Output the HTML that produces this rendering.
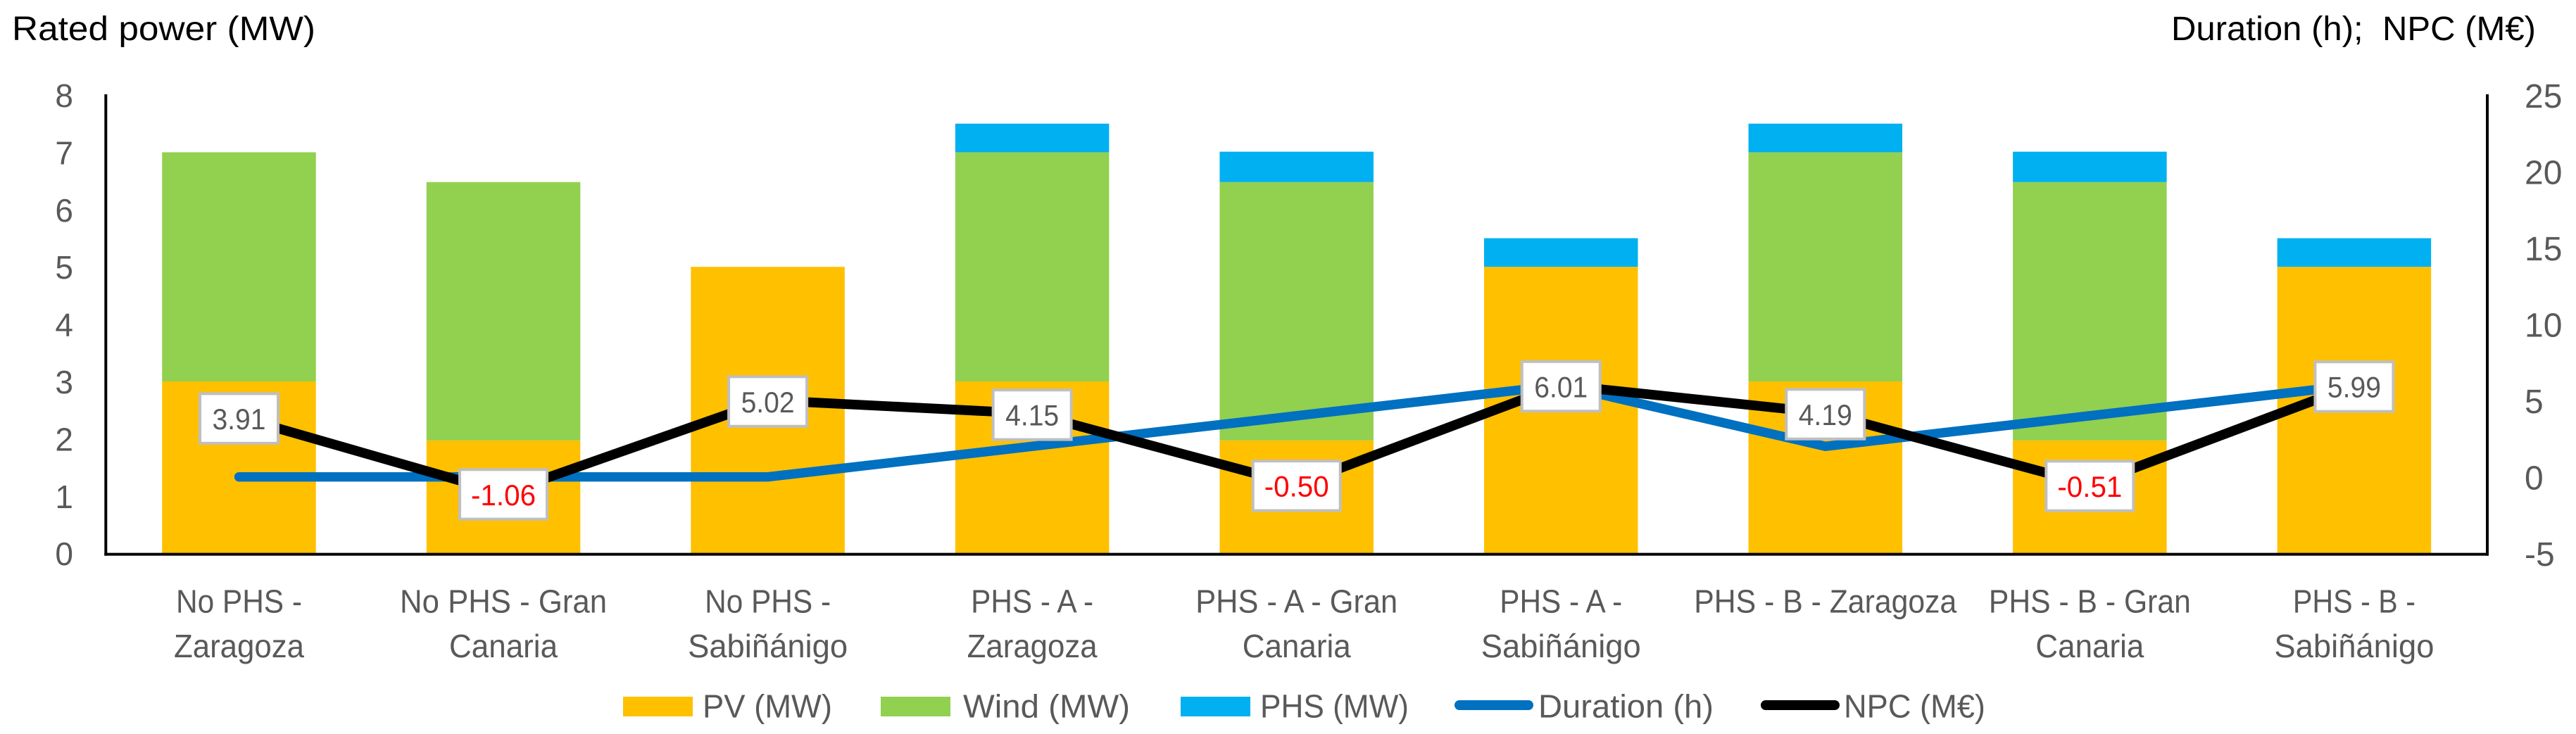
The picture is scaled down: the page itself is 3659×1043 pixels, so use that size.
<!DOCTYPE html>
<html lang="en">
<head>
<meta charset="utf-8">
<title>Rated power, duration and NPC chart</title>
<style>
html,body{margin:0;padding:0;background:#fff;}
svg{display:block;font-family:"Liberation Sans",sans-serif;}
</style>
</head>
<body>
<svg id="chart" xmlns="http://www.w3.org/2000/svg" width="3659" height="1043" viewBox="0 0 3659 1043">
  <rect x="0" y="0" width="3659" height="1043" fill="#ffffff"/>
  <g id="bars"></g>
  <g id="lines"></g>
  <g id="axes"></g>
  <g id="labels"></g>
  <text x="17" y="57" font-size="48.5" fill="#000000" textLength="431" lengthAdjust="spacingAndGlyphs">Rated power (MW)</text>
  <text x="3084" y="57" font-size="48.5" fill="#000000" style="white-space:pre" textLength="518" lengthAdjust="spacingAndGlyphs">Duration (h);  NPC (M€)</text>
  <g font-size="46" fill="#595959">
    <rect x="885" y="990" width="99" height="28" fill="#FFC000"/>
    <text x="998" y="1019.3" textLength="184" lengthAdjust="spacingAndGlyphs">PV (MW)</text>
    <rect x="1251" y="990" width="99" height="28" fill="#92D050"/>
    <text x="1368" y="1019.3" textLength="237" lengthAdjust="spacingAndGlyphs">Wind (MW)</text>
    <rect x="1677" y="990" width="99" height="28" fill="#00B0F0"/>
    <text x="1790" y="1019.3" textLength="211" lengthAdjust="spacingAndGlyphs">PHS (MW)</text>
    <line x1="2073" y1="1002" x2="2171" y2="1002" stroke="#0070C0" stroke-width="14" stroke-linecap="round"/>
    <text x="2185" y="1019.3" textLength="249" lengthAdjust="spacingAndGlyphs">Duration (h)</text>
    <line x1="2508" y1="1002" x2="2606" y2="1002" stroke="#000000" stroke-width="14" stroke-linecap="round"/>
    <text x="2619" y="1019.3" textLength="201" lengthAdjust="spacingAndGlyphs">NPC (M€)</text>
  </g>
</svg>
<script>
const categories = [
  ['No PHS -', 'Zaragoza'],
  ['No PHS - Gran', 'Canaria'],
  ['No PHS -', 'Sabiñánigo'],
  ['PHS - A -', 'Zaragoza'],
  ['PHS - A - Gran', 'Canaria'],
  ['PHS - A -', 'Sabiñánigo'],
  ['PHS - B - Zaragoza'],
  ['PHS - B - Gran', 'Canaria'],
  ['PHS - B -', 'Sabiñánigo']
];
const pvMW = [3, 1.97, 5, 3, 1.97, 5, 3, 1.97, 5];
const windMW = [4, 4.51, 0, 4, 4.51, 0, 4, 4.51, 0];
const phsMW = [0, 0, 0, 0.5, 0.53, 0.5, 0.5, 0.53, 0.5];
const durationH = [0, 0, 0, 2, 4, 6, 2, 4, 6];
const npcMEUR = [3.91, -1.06, 5.02, 4.15, -0.50, 6.01, 4.19, -0.51, 5.99];
const leftTicks = [0, 1, 2, 3, 4, 5, 6, 7, 8];
const rightTicks = [-5, 0, 5, 10, 15, 20, 25];

const NS = 'http://www.w3.org/2000/svg';
const plotLeft = 151.7, plotRight = 3531.7, plotTop = 135, plotBottom = 786.2;
const barWidth = 218.5;
const textGrey = '#595959';

function xScale(i) { return plotLeft + (i + 0.5) * (plotRight - plotLeft) / categories.length; }
function yLeft(v) { return plotBottom - (v - 0) / (8 - 0) * (plotBottom - plotTop); }
function yRight(v) { return plotBottom - (v - (-5)) / (25 - (-5)) * (plotBottom - plotTop); }

function make(tag, attrs, parent) {
  const el = document.createElementNS(NS, tag);
  for (const k in attrs) el.setAttribute(k, attrs[k]);
  parent.appendChild(el);
  return el;
}
function fitText(el, w) {
  el.setAttribute('textLength', w);
  el.setAttribute('lengthAdjust', 'spacingAndGlyphs');
}

const barsGroup = document.getElementById('bars');
const linesGroup = document.getElementById('lines');
const axesGroup = document.getElementById('axes');
const labelsGroup = document.getElementById('labels');

const stacks = [
  { key: 'pv', values: pvMW, color: '#FFC000' },
  { key: 'wind', values: windMW, color: '#92D050' },
  { key: 'phs', values: phsMW, color: '#00B0F0' }
];
categories.forEach(function (cat, i) {
  let base = 0;
  stacks.forEach(function (s) {
    const v = s.values[i];
    if (v > 0) {
      const top = yLeft(base + v);
      const r = make('rect', { x: xScale(i) - barWidth / 2, y: top, width: barWidth, height: yLeft(base) - top, fill: s.color }, barsGroup);
      
      
    }
    base += v;
  });
});

function linePoints(values) {
  return values.map(function (v, i) { return xScale(i) + ',' + yRight(v); }).join(' ');
}
const durationLine = make('polyline', { points: linePoints(durationH), fill: 'none', stroke: '#0070C0', 'stroke-width': 13.4, 'stroke-linecap': 'round', 'stroke-linejoin': 'miter' }, linesGroup);


const npcLine = make('polyline', { points: linePoints(npcMEUR), fill: 'none', stroke: '#000000', 'stroke-width': 13.8, 'stroke-linecap': 'round', 'stroke-linejoin': 'miter' }, linesGroup);



const axisLeft = make('line', { x1: 150.3, y1: 134, x2: 150.3, y2: 789.6, stroke: '#000', 'stroke-width': 4 }, axesGroup);


const axisRight = make('line', { x1: 3533, y1: 134, x2: 3533, y2: 789.6, stroke: '#000', 'stroke-width': 4 }, axesGroup);


const axisBottom = make('line', { x1: 148.3, y1: 787.6, x2: 3535, y2: 787.6, stroke: '#000', 'stroke-width': 4 }, axesGroup);



leftTicks.forEach(function (t) {
  const el = make('text', { x: 104, y: yLeft(t) + 17, 'text-anchor': 'end', 'font-size': 46, fill: textGrey }, axesGroup);
  el.textContent = String(t);
  
  
});
rightTicks.forEach(function (t) {
  const el = make('text', { x: 3586, y: yRight(t) + 18, 'text-anchor': 'start', 'font-size': 48, fill: textGrey }, axesGroup);
  el.textContent = String(t);
  
  
});

const lineFit = {
  'No PHS -': 179, 'No PHS - Gran': 294, 'Zaragoza': 185, 'Canaria': 154, 'Sabiñánigo': 227,
  'PHS - A -': 174, 'PHS - B -': 174, 'PHS - A - Gran': 287, 'PHS - B - Gran': 287, 'PHS - B - Zaragoza': 373
};
categories.forEach(function (lines, i) {
  lines.forEach(function (line, j) {
    const el = make('text', { x: xScale(i), y: 870.7 + j * 63.3, 'text-anchor': 'middle', 'font-size': 46, fill: textGrey }, axesGroup);
    el.textContent = line;
    fitText(el, lineFit[line]);
    
    
  });
});

npcMEUR.forEach(function (v, i) {
  const cx = xScale(i);
  const cy = yRight(v) + 1.8;
  const boxW = v < 0 ? 124 : 111;
  const box = make('rect', { x: cx - boxW / 2, y: cy - 35.2, width: boxW, height: 70.4, fill: '#ffffff', stroke: '#BFBFBF', 'stroke-width': 4 }, labelsGroup);
  
  
  const txt = make('text', { x: cx, y: cy + 15.3, 'text-anchor': 'middle', 'font-size': 42, fill: v < 0 ? '#FF0000' : textGrey }, labelsGroup);
  txt.textContent = v.toFixed(2);
  fitText(txt, v < 0 ? 92 : 76);
  
  
});
</script>
</body>
</html>
